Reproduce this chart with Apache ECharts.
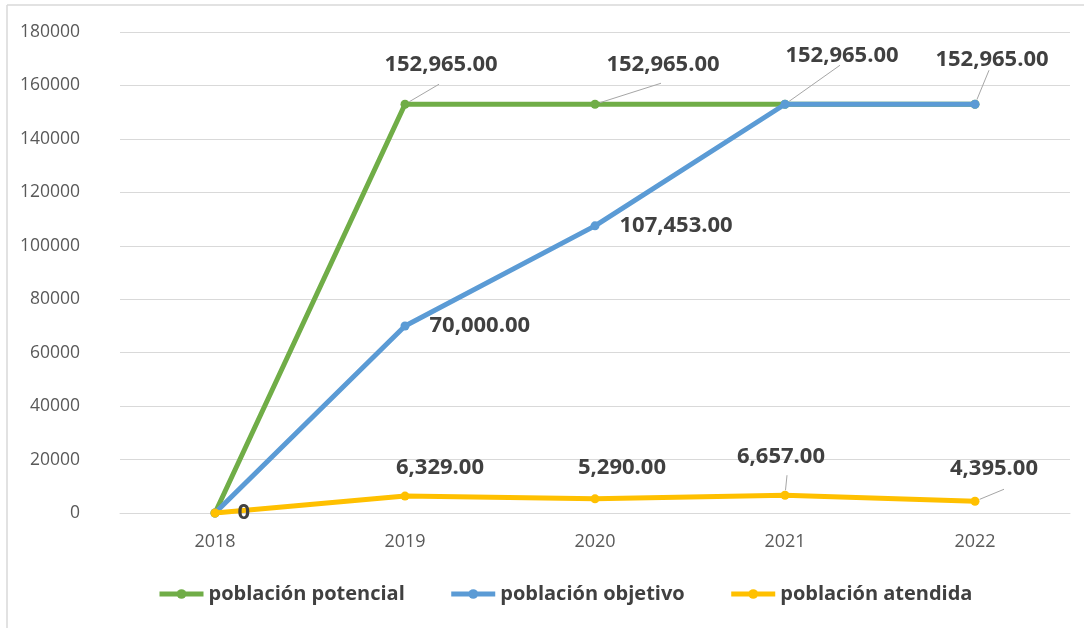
<!DOCTYPE html>
<html>
<head>
<meta charset="utf-8">
<script src="https://cdn.jsdelivr.net/npm/echarts@6/dist/echarts.min.js"></script>
<style>
  html, body { margin: 0; padding: 0; background: #fff; }
  #chart { width: 1084px; height: 628px; }
</style>
</head>
<body>
<div id="chart"></div>
<script>
const years = ['2018', '2019', '2020', '2021', '2022']
const potencial = [0, 152965, 152965, 152965, 152965]
const objetivo = [0, 70000, 107453, 152965, 152965]
const atendida = [0, 6329, 5290, 6657, 4395]
const yTicks = [0, 20000, 40000, 60000, 80000, 100000, 120000, 140000, 160000, 180000]

// which points get a label, and how far each label is pushed off its point
const labelOffsets = [
  { 1: [36, -19], 2: [68, -19] },
  { 3: [57, -28], 4: [17, -24] },
  { 1: [35, -8], 2: [27, -11], 3: [-4, -18], 4: [19, -12] }
]
// gray leader lines: direction/length from the point towards its label
const leaderVec = [
  { 1: [34, -20], 2: [66, -21] },
  { 3: [55, -39], 4: [14, -34] },
  { 3: [2, -20], 4: [29, -12] }
]

const font = '"Open Sans", "Liberation Sans", sans-serif'
const labelText = '#404040'
const allSeries = [potencial, objetivo, atendida]

function fmt(v) {
  if (v === 0) return '0'
  return v.toLocaleString('en-US', { minimumFractionDigits: 2, maximumFractionDigits: 2 })
}

function buildData(values, seriesIdx, extra) {
  return values.map(function(v, i) {
    const item = { value: v }
    const shown = labelOffsets[seriesIdx][i] !== undefined || (extra && extra[i])
    item.label = { show: !!shown }
    if (extra && extra[i]) item.label = Object.assign({ show: true }, extra[i])
    return item
  })
}

const baseLabel = {
  position: 'top',
  distance: 5,
  color: labelText,
  fontFamily: font,
  fontWeight: 'bold',
  fontSize: 22,
  formatter: function(p) { return fmt(p.value) }
}

function layoutFor(seriesIdx) {
  return function(params) {
    const off = labelOffsets[seriesIdx][params.dataIndex]
    if (!off) return {}
    return { dx: off[0], dy: off[1] }
  }
}

const chartDom = document.getElementById('chart')
const myChart = echarts.init(chartDom, null, { renderer: 'canvas' })

const option = {
  animation: false,
  backgroundColor: '#fff',
  graphic: [
    { id: 'borderTop', type: 'line', shape: { x1: 7, y1: 5, x2: 1084, y2: 5 }, style: { stroke: '#d9d9d9', lineWidth: 1.5 } },
    { id: 'borderLeft', type: 'line', shape: { x1: 7, y1: 5, x2: 7, y2: 628 }, style: { stroke: '#d9d9d9', lineWidth: 1.5 } }
  ],
  grid: {
    left: 120,
    right: 14,
    top: 32,
    bottom: 115
  },
  legend: {
    bottom: 19,
    left: 152,
    itemWidth: 44,
    itemHeight: 12,
    itemGap: 44,
    lineStyle: { width: 5 },
    textStyle: {
      color: labelText,
      fontFamily: font,
      fontWeight: 'bold',
      fontSize: 20
    },
    data: ['población potencial', 'población objetivo', 'población atendida']
  },
  xAxis: {
    type: 'category',
    data: years,
    boundaryGap: true,
    axisLine: { show: true, lineStyle: { color: '#d9d9d9' } },
    axisTick: { show: false },
    axisLabel: {
      margin: 20,
      color: '#595959',
      fontFamily: font,
      fontSize: 18
    }
  },
  yAxis: {
    type: 'value',
    min: yTicks[0],
    max: yTicks[yTicks.length - 1],
    interval: yTicks[1] - yTicks[0],
    axisLine: { show: false },
    axisTick: { show: false },
    splitLine: { lineStyle: { color: '#d9d9d9', width: 1 } },
    axisLabel: {
      margin: 40,
      color: '#595959',
      fontFamily: font,
      fontSize: 17.5,
      formatter: function(v) { return String(v) }
    }
  },
  series: [
    {
      name: 'población potencial',
      type: 'line',
      data: buildData(potencial, 0),
      symbol: 'circle',
      symbolSize: 9,
      lineStyle: { width: 5, color: '#70ad47' },
      itemStyle: { color: '#70ad47' },
      label: baseLabel,
      labelLayout: layoutFor(0),
      z: 2
    },
    {
      name: 'población objetivo',
      type: 'line',
      data: buildData(objetivo, 1, {
        1: { position: 'right', distance: 20 },
        2: { position: 'right', distance: 20 }
      }),
      symbol: 'circle',
      symbolSize: 9,
      lineStyle: { width: 5, color: '#5b9bd5' },
      itemStyle: { color: '#5b9bd5' },
      label: baseLabel,
      labelLayout: layoutFor(1),
      z: 3
    },
    {
      name: 'población atendida',
      type: 'line',
      data: buildData(atendida, 2, {
        0: { position: 'right', distance: 18, offset: [0, 7] }
      }),
      symbol: 'circle',
      symbolSize: 9,
      lineStyle: { width: 5, color: '#ffc000' },
      itemStyle: { color: '#ffc000' },
      label: baseLabel,
      labelLayout: layoutFor(2),
      z: 4
    }
  ]
}

option && myChart.setOption(option)

// leader lines start just outside each point, positioned through the axes
const leaders = []
leaderVec.forEach(function(vecs, s) {
  Object.keys(vecs).forEach(function(k) {
    const i = Number(k)
    const p = myChart.convertToPixel({ gridIndex: 0 }, [i, allSeries[s][i]])
    const v = vecs[k]
    const len = Math.sqrt(v[0] * v[0] + v[1] * v[1])
    const gap = 5
    leaders.push({
      id: 'leader' + s + '_' + i,
      type: 'line',
      z: 10,
      shape: {
        x1: p[0] + v[0] / len * gap,
        y1: p[1] + v[1] / len * gap,
        x2: p[0] + v[0],
        y2: p[1] + v[1]
      },
      style: { stroke: '#a6a6a6', lineWidth: 1 }
    })
  })
})
myChart.setOption({ graphic: leaders })
</script>
</body>
</html>
